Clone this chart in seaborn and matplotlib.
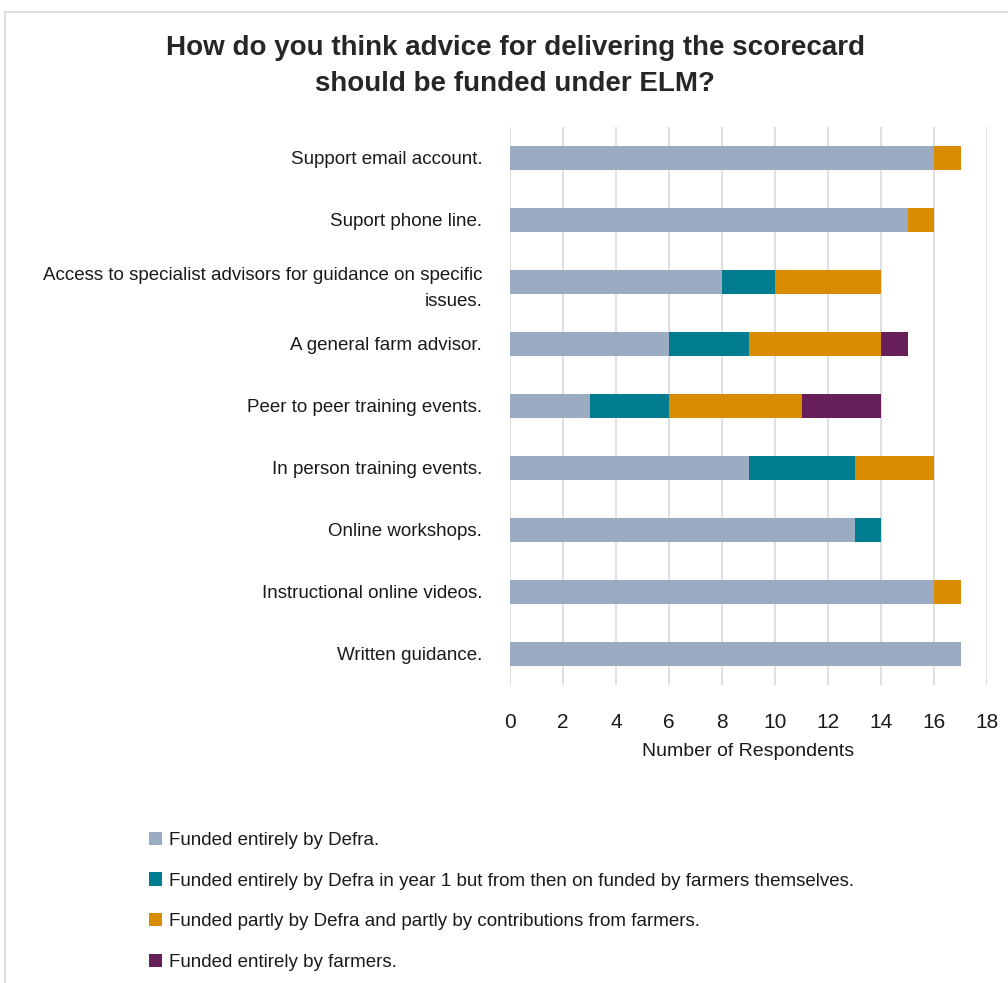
import pandas as pd
import matplotlib.pyplot as plt
import seaborn as sns
from matplotlib.patches import Patch
from matplotlib.lines import Line2D

# Data
categories = [
    "Support email account.",
    "Suport phone line.",
    "Access to specialist advisors for guidance on specific\nissues.",
    "A general farm advisor.",
    "Peer to peer training events.",
    "In person training events.",
    "Online workshops.",
    "Instructional online videos.",
    "Written guidance.",
]
defra = [16, 15, 8, 6, 3, 9, 13, 16, 17]
defra_year1 = [0, 0, 2, 3, 3, 4, 1, 0, 0]
partly = [1, 1, 4, 5, 5, 3, 0, 1, 0]
farmers = [0, 0, 0, 1, 3, 0, 0, 0, 0]

series_labels = [
    "Funded entirely by Defra.",
    "Funded entirely by Defra in year 1 but from then on funded by farmers themselves.",
    "Funded partly by Defra and partly by contributions from farmers.",
    "Funded entirely by farmers.",
]
colors = ["#9aabc2", "#007c91", "#da8c00", "#671f59"]

df = pd.DataFrame({
    "category": categories,
    "s0": defra,
    "s1": defra_year1,
    "s2": partly,
    "s3": farmers,
})
# cumulative ends so each layer can be drawn over the longer one behind it
df["c0"] = df["s0"]
df["c1"] = df["c0"] + df["s1"]
df["c2"] = df["c1"] + df["s2"]
df["c3"] = df["c2"] + df["s3"]

sns.set_style("white")
plt.rcParams["font.family"] = ["Liberation Sans", "DejaVu Sans"]

fig = plt.figure(figsize=(10.08, 9.83), dpi=100)
ax = fig.add_axes([510 / 1008, 1 - 685 / 983, (987 - 510) / 1008, (685 - 127) / 983])

for i in [3, 2, 1, 0]:
    sns.barplot(data=df, x=f"c{i}", y="category", color=colors[i], width=0.39,
                orient="h", ax=ax, saturation=1, zorder=2, linewidth=0)

ax.set_xlim(0, 18)
ax.set_xticks(range(0, 19, 2))
ax.xaxis.grid(True, color="#d9d9d9", linewidth=1.2, zorder=0)
ax.set_axisbelow(True)
for s in ax.spines.values():
    s.set_visible(False)
ax.tick_params(axis="x", length=0, pad=20, labelsize=15, colors="#1a1a1a")
ax.tick_params(axis="y", length=0, pad=20, labelsize=13.5, colors="#1a1a1a")
for lab in ax.get_yticklabels():
    lab.set_linespacing(1.7)
ax.set_ylabel("")
ax.set_xlabel("Number of Respondents", fontsize=14, color="#1a1a1a", labelpad=8)

fig.text(515 / 1008, 1 - 66 / 983,
         "How do you think advice for delivering the scorecard\nshould be funded under ELM?",
         ha="center", va="center", fontsize=20, fontweight="bold", linespacing=1.5)

handles = [Patch(facecolor=c, edgecolor="none") for c in colors]
fig.legend(handles, series_labels, loc="upper left",
           bbox_to_anchor=(132 / 1008, 1 - 815 / 983), frameon=False,
           fontsize=13.5, handlelength=0.7, handleheight=0.7, handletextpad=0.35,
           labelspacing=1.25, labelcolor="#1a1a1a")

# chart area border
fig.add_artist(Line2D([5 / 1008, 5 / 1008], [0, 1 - 12 / 983],
                      transform=fig.transFigure, color="#d9d9d9", linewidth=1.2))
fig.add_artist(Line2D([5 / 1008, 1], [1 - 12 / 983, 1 - 12 / 983],
                      transform=fig.transFigure, color="#d9d9d9", linewidth=1.2))

fig.savefig("out.png", dpi=100)
